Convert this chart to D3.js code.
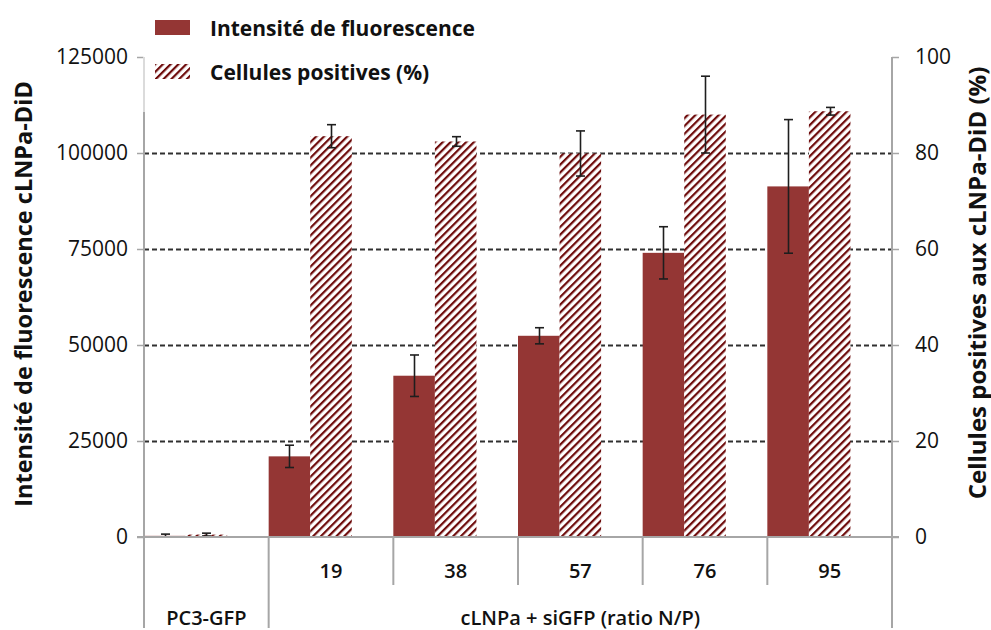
<!DOCTYPE html>
<html>
<head>
<meta charset="utf-8">
<script src="https://cdn.jsdelivr.net/npm/d3@7"></script>
<style>
  html, body { margin: 0; padding: 0; background: #fff; }
  svg { display: block; }
  text { font-family: "Open Sans", "Noto Sans", sans-serif; fill: #111; }
</style>
</head>
<body>
<svg id="chart" width="991" height="630"></svg>
<script>
// Groups along the category axis (first level) and their parent group (second level)
const categories = ["PC3-GFP", "19", "38", "57", "76", "95"];
const groupLabels = ["PC3-GFP", "cLNPa + siGFP (ratio N/P)"];

// Mean fluorescence intensity (left axis) and its error
const intensity = [300, 21000, 42000, 52400, 74000, 91300];
const intensityErr = [450, 2900, 5400, 2100, 6800, 17400];

// Percentage of positive cells (right axis) and its error
const positive = [0.5, 83.5, 82.4, 79.9, 88.0, 88.7];
const positiveErr = [0.3, 2.4, 1.0, 4.7, 8.0, 0.8];

// Axis ticks
const leftTicks = [0, 25000, 50000, 75000, 100000, 125000];
const rightTicks = [0, 20, 40, 60, 80, 100];
const seriesNames = ["Intensité de fluorescence", "Cellules positives (%)"];

const svg = d3.select("#chart");
const plot = { left: 144, right: 892, top: 57, bottom: 537 };
const darkRed = "#943634";
const hatchRed = "#6e0b0b";
const axisGrey = "#a6a6a6";

// Diagonal hatch used by the percentage series
const defs = svg.append("defs");
const pat = defs.append("pattern")
  .attr("id", "hatch")
  .attr("patternUnits", "userSpaceOnUse")
  .attr("width", 5.5).attr("height", 5.5)
  .attr("patternTransform", "rotate(45)");
pat.append("rect").attr("width", 5.5).attr("height", 5.5).attr("fill", "#fff");
pat.append("rect").attr("x", 0).attr("y", 0).attr("width", 2.2).attr("height", 5.5).attr("fill", hatchRed);

// Scales
const x = d3.scaleBand().domain(categories).range([plot.left, plot.right]).padding(0);
const inner = d3.scaleBand().domain(["intensity", "positive"])
  .range([0, x.bandwidth() * 2 / 3]).padding(0);
const yL = d3.scaleLinear().domain([0, 125000]).range([plot.bottom, plot.top]);
const yR = d3.scaleLinear().domain([0, 100]).range([plot.bottom, plot.top]);

// Dashed horizontal gridlines
svg.append("g")
  .selectAll("line")
  .data(leftTicks.filter(t => t > 0 && t < 125000))
  .join("line")
  .attr("x1", plot.left).attr("x2", plot.right)
  .attr("y1", d => Math.round(yL(d)) + 0.5).attr("y2", d => Math.round(yL(d)) + 0.5)
  .attr("stroke", "#303030").attr("stroke-width", 1.8)
  .attr("stroke-dasharray", "5,3");

// Intensity bars
const bars = svg.append("g");
bars.selectAll("rect.int")
  .data(categories)
  .join("rect")
  .attr("class", "int")
  .attr("x", (d) => x(d) + inner("intensity"))
  .attr("width", inner.bandwidth())
  .attr("y", (d, i) => yL(intensity[i]))
  .attr("height", (d, i) => plot.bottom - yL(intensity[i]))
  .attr("fill", darkRed);

// Percentage bars
bars.selectAll("rect.pos")
  .data(categories)
  .join("rect")
  .attr("class", "pos")
  .attr("x", (d) => x(d) + inner("positive"))
  .attr("width", inner.bandwidth())
  .attr("y", (d, i) => yR(positive[i]))
  .attr("height", (d, i) => plot.bottom - yR(positive[i]))
  .attr("fill", "url(#hatch)");

// Error bars
function errorBars(key, vals, errs, scale) {
  const g = svg.append("g").attr("stroke", "#1e1e1e").attr("stroke-width", 1.6).attr("fill", "none");
  categories.forEach((c, i) => {
    const cx = Math.round(x(c) + inner(key) + inner.bandwidth() / 2) + 0.5;
    const y1 = scale(vals[i] + errs[i]);
    const y2 = scale(Math.max(0, vals[i] - errs[i]));
    g.append("line").attr("x1", cx).attr("x2", cx).attr("y1", y1).attr("y2", y2);
    g.append("line").attr("x1", cx - 4.5).attr("x2", cx + 4.5).attr("y1", y1).attr("y2", y1);
    g.append("line").attr("x1", cx - 4.5).attr("x2", cx + 4.5).attr("y1", y2).attr("y2", y2);
  });
}
errorBars("intensity", intensity, intensityErr, yL);
errorBars("positive", positive, positiveErr, yR);

// Axis lines
const axes = svg.append("g").attr("stroke", axisGrey).attr("stroke-width", 2);
axes.append("line").attr("x1", plot.left).attr("x2", plot.left).attr("y1", plot.top).attr("y2", 628);
axes.append("line").attr("x1", plot.right).attr("x2", plot.right).attr("y1", plot.top).attr("y2", 628);
axes.append("line").attr("x1", plot.left - 7).attr("x2", plot.right + 7).attr("y1", plot.bottom).attr("y2", plot.bottom);

// Category separators: inner ticks for the ratio level, full height for group boundaries
categories.forEach((c, i) => {
  if (i === 0) return;
  const xx = x(c);
  const full = i === 1;
  axes.append("line").attr("x1", xx).attr("x2", xx)
    .attr("y1", plot.bottom).attr("y2", full ? 628 : 585);
});

// Left value axis
const leftAxis = d3.axisLeft(yL).tickValues(leftTicks).tickSize(7).tickPadding(9).tickFormat(d3.format("d"));
const gL = svg.append("g").attr("transform", `translate(${plot.left},0)`).call(leftAxis);
gL.select(".domain").remove();
gL.selectAll(".tick line").attr("stroke", axisGrey).attr("stroke-width", 1.5);
gL.selectAll(".tick text").style("font-size", "21px").attr("fill", "#111")
  .style("font-family", "'Open Sans', sans-serif");

// Right value axis
const rightAxis = d3.axisRight(yR).tickValues(rightTicks).tickSize(7).tickPadding(16);
const gR = svg.append("g").attr("transform", `translate(${plot.right},0)`).call(rightAxis);
gR.select(".domain").remove();
gR.selectAll(".tick line").attr("stroke", axisGrey).attr("stroke-width", 1.5);
gR.selectAll(".tick text").style("font-size", "21px").attr("fill", "#111")
  .style("font-family", "'Open Sans', sans-serif");

// Category labels
svg.append("g").selectAll("text")
  .data(categories.slice(1))
  .join("text")
  .attr("x", d => x(d) + x.bandwidth() / 2)
  .attr("y", 570)
  .attr("text-anchor", "middle")
  .attr("dominant-baseline", "central")
  .style("font-size", "20px").style("font-weight", "600")
  .text(d => d);

svg.append("text")
  .attr("x", x(categories[0]) + x.bandwidth() / 2).attr("y", 617)
  .attr("text-anchor", "middle").attr("dominant-baseline", "central")
  .style("font-size", "20px").style("font-weight", "600")
  .text(groupLabels[0]);
svg.append("text")
  .attr("x", (x(categories[1]) + plot.right) / 2).attr("y", 617)
  .attr("text-anchor", "middle").attr("dominant-baseline", "central")
  .style("font-size", "20px").style("font-weight", "600")
  .text(groupLabels[1]);

// Axis titles
svg.append("text")
  .attr("transform", "translate(23,294) rotate(-90)")
  .attr("text-anchor", "middle").attr("dominant-baseline", "central")
  .style("font-size", "23.5px").style("font-weight", "bold")
  .text("Intensité de fluorescence cLNPa-DiD");
svg.append("text")
  .attr("transform", "translate(976,283) rotate(-90)")
  .attr("text-anchor", "middle").attr("dominant-baseline", "central")
  .style("font-size", "24px").style("font-weight", "bold")
  .text("Cellules positives aux cLNPa-DiD (%)");

// Legend with a translucent white backdrop
const legend = svg.append("g");
legend.append("rect").attr("x", 143).attr("y", 0).attr("width", 350).attr("height", 112)
  .attr("fill", "#fff").attr("opacity", 0.6);
const legendRows = [
  { name: seriesNames[0], fill: darkRed, cy: 27 },
  { name: seriesNames[1], fill: "url(#hatch)", cy: 71 }
];
legendRows.forEach(r => {
  legend.append("rect").attr("x", 155).attr("y", r.cy - 7).attr("width", 35).attr("height", 15).attr("fill", r.fill);
  legend.append("text").attr("x", 210).attr("y", r.cy + 1)
    .attr("dominant-baseline", "central")
    .style("font-size", "21px").style("font-weight", "bold")
    .text(r.name);
});
</script>
</body>
</html>
